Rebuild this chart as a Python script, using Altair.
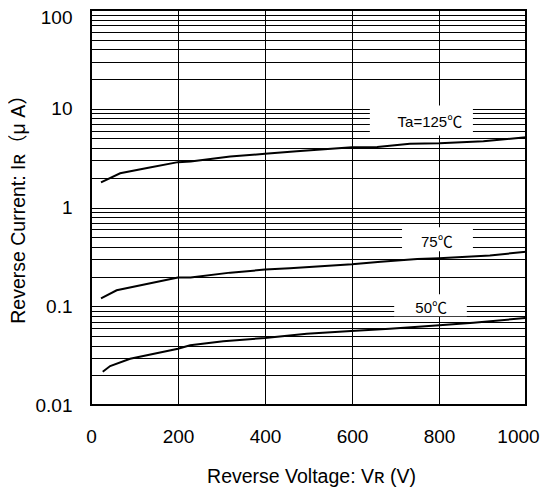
import altair as alt
import pandas as pd

# ---- data ----
x_ticks = [0, 200, 400, 600, 800, 1000]
y_decades = [0.01, 0.1, 1, 10, 100]

v_125 = [23, 67, 132, 200, 229, 320, 400, 473, 600, 658, 733, 801, 902, 1000]
i_125 = [1.80, 2.22, 2.53, 2.88, 2.92, 3.28, 3.50, 3.72, 4.08, 4.10, 4.42, 4.48, 4.69, 5.15]

v_75 = [23, 59, 200, 229, 320, 400, 457, 600, 666, 750, 800, 917, 1000]
i_75 = [0.120, 0.145, 0.195, 0.196, 0.219, 0.235, 0.242, 0.266, 0.283, 0.301, 0.306, 0.326, 0.357]

v_50 = [27, 44, 90, 200, 228, 304, 400, 496, 598, 687, 801, 879, 998]
i_50 = [0.0217, 0.0248, 0.0294, 0.0372, 0.0402, 0.0442, 0.0477, 0.0527, 0.0562, 0.0592, 0.0641, 0.0681, 0.0760]

labels = ["Ta=125℃", "75℃", "50℃"]
label_v = [779, 795, 782]
label_i = [7.26, 0.445, 0.0954]
box_v1 = [641, 715, 697]
box_v2 = [878, 878, 864]
box_i1 = [5.36, 0.361, 0.0792]
box_i2 = [10.8, 0.631, 0.132]

# log grid values (1..9 x each decade)
y_grid = [m * d for d in [0.01, 0.1, 1, 10] for m in range(1, 10)] + [100]

curves = pd.DataFrame(
    {
        "v": v_125 + v_75 + v_50,
        "i": i_125 + i_75 + i_50,
        "s": ["125"] * len(v_125) + ["75"] * len(v_75) + ["50"] * len(v_50),
    }
)
lab_df = pd.DataFrame({"t": labels, "v": label_v, "i": label_i})
box_df = pd.DataFrame({"v1": box_v1, "v2": box_v2, "i1": box_i1, "i2": box_i2})

FONT = "Liberation Sans, Arial, Noto Sans CJK JP"

xscale = alt.Scale(domain=[0, 1000], nice=False, zero=False)
yscale = alt.Scale(type="log", domain=[0.01, 100], nice=False)

xaxis = alt.Axis(
    values=x_ticks,
    format="d",
    grid=True,
    gridColor="black",
    gridOpacity=1,
    gridWidth=1,
    ticks=False,
    domain=False,
    labelFlush=False,
    labelFont=FONT,
    labelFontSize=19,
    labelColor="black",
    labelPadding=22,
    labelOffset={"condition": {"test": "datum.value == 1000", "value": -8}, "value": 0},
    title="Reverse Voltage: Vʀ (V)",
    titleFont=FONT,
    titleFontSize=19.5,
    titleFontWeight="normal",
    titleColor="black",
    titleX=220,
    titleY=71,
    titleBaseline="middle",
)
yaxis = alt.Axis(
    values=y_grid,
    grid=True,
    gridColor="black",
    gridOpacity=1,
    gridWidth=1,
    ticks=False,
    domain=False,
    labelOverlap=False,
    labelFlush=False,
    labelExpr="indexof(['0.01','0.1','1','10','100'], format(datum.value, '~g')) >= 0 ? format(datum.value, '~g') : ''",
    labelFont=FONT,
    labelFontSize=19,
    labelColor="black",
    labelPadding=19,
    labelOffset={"condition": {"test": "datum.value == 100", "value": 7}, "value": 0},
    title="Reverse Current: Iʀ（μ A）",
    titleFont=FONT,
    titleFontSize=19.5,
    titleFontWeight="normal",
    titleColor="black",
    titleAngle=270,
    titleX=-73,
    titleY=194,
    titleAlign="center",
    titleBaseline="middle",
)

boxes = alt.Chart(box_df).mark_rect(color="white", opacity=1).encode(
    x=alt.X("v1:Q", scale=xscale, axis=xaxis),
    x2="v2:Q",
    y=alt.Y("i1:Q", scale=yscale, axis=yaxis),
    y2="i2:Q",
)

lines = alt.Chart(curves).mark_line(color="black", strokeWidth=2).encode(
    x=alt.X("v:Q", scale=xscale, axis=xaxis),
    y=alt.Y("i:Q", scale=yscale, axis=yaxis),
    detail="s:N",
)

texts = alt.Chart(lab_df).mark_text(font=FONT, fontSize=15, color="black").encode(
    x=alt.X("v:Q", scale=xscale, axis=xaxis),
    y=alt.Y("i:Q", scale=yscale, axis=yaxis),
    text="t:N",
)

chart = (
    alt.layer(boxes, lines, texts)
    .properties(
        width=435,
        height=395,
        padding={"left": 83, "top": 2, "right": 14, "bottom": 83},
        autosize=alt.AutoSizeParams(type="none"),
        background="white",
    )
    .configure_view(stroke="black", strokeWidth=2)
)

chart.save("out.html", embed_options={"renderer": "svg", "actions": False})
